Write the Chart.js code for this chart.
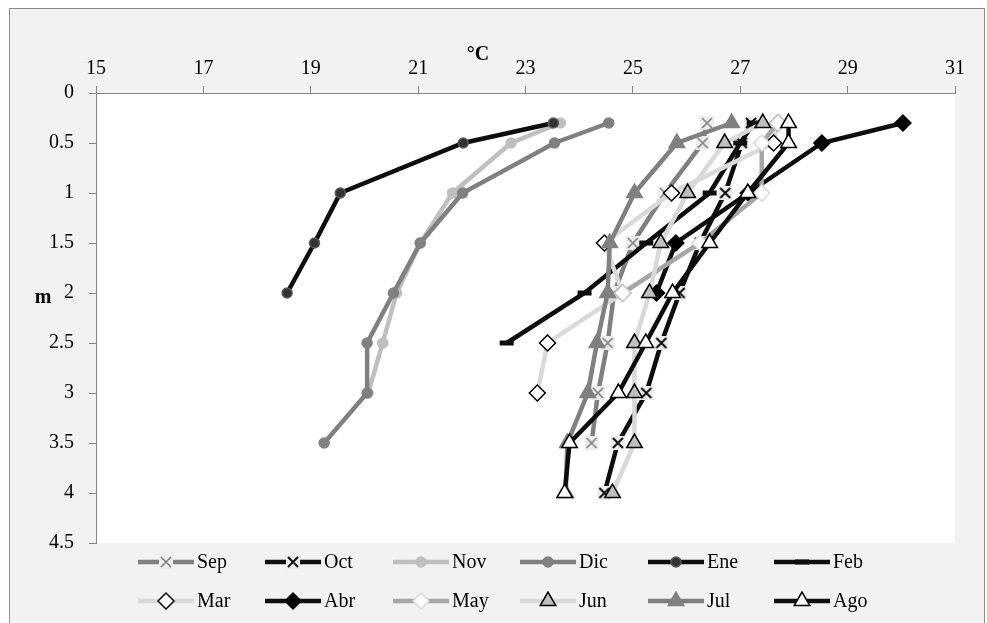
<!DOCTYPE html>
<html>
<head>
<meta charset="utf-8">
<script src="https://cdn.jsdelivr.net/npm/chart.js@4/dist/chart.umd.min.js"></script>
<style>
  body { margin: 0; background: #fff; }
  canvas { display: block; }
</style>
</head>
<body>
<canvas id="tempChart" width="987" height="623"></canvas>
<script>
// depth (m) of each reading, temperature (°C) per month
var depths = [0.3, 0.5, 1, 1.5, 2, 2.5, 3, 3.5, 4];
var months = ['Sep', 'Oct', 'Nov', 'Dic', 'Ene', 'Feb', 'Mar', 'Abr', 'May', 'Jun', 'Jul', 'Ago'];

var sep = [26.38, 26.3, 25.6, 25.0, 24.65, 24.53, 24.35, 24.23, null];
var oct = [27.2, 27.03, 26.72, 26.25, 25.87, 25.53, 25.25, 24.72, 24.47];
var nov = [23.65, 22.73, 21.64, 21.04, 20.6, 20.34, 20.07, null, null];
var dic = [24.55, 23.54, 21.83, 21.04, 20.54, 20.05, 20.05, 19.25, null];
var ene = [23.52, 21.84, 19.55, 19.07, 18.56, null, null, null, null];
var feb = [27.25, 27.0, 26.43, 25.25, 24.1, 22.65, null, null, null];
var mar = [27.7, 27.62, 25.72, 24.47, 24.81, 23.41, 23.22, null, null];
var abr = [30.03, 28.52, 27.15, 25.8, 25.44, null, null, null, null];
var may = [27.7, 27.4, 27.4, 26.25, 24.81, null, null, null, null];
var jun = [27.42, 26.71, 26.02, 25.52, 25.31, 25.03, 25.03, 25.03, 24.62];
var jul = [26.84, 25.82, 25.03, 24.57, 24.53, 24.33, 24.16, 23.78, 23.75];
var ago = [27.9, 27.9, 27.14, 26.43, 25.74, 25.24, 24.73, 23.82, 23.73];

var xTicks = [15, 17, 19, 21, 23, 25, 27, 29, 31];

var serif = '"Liberation Serif", "Times New Roman", serif';

// Excel-like "x" marker with a faint box behind it
function xMarker(color, lw) {
    var c = document.createElement('canvas');
    c.width = 16; c.height = 16;
    var g = c.getContext('2d');
    g.fillStyle = '#ececec';
    g.fillRect(1, 1, 14, 14);
    g.strokeStyle = color;
    g.lineWidth = lw;
    g.beginPath();
    g.moveTo(3, 3); g.lineTo(13, 13);
    g.moveTo(13, 3); g.lineTo(3, 13);
    g.stroke();
    return c;
}

var styles = [
    { line: '#808080', style: xMarker('#808080', 1.6), fill: '#808080', border: '#808080', r: 7 },
    { line: '#0d0d0d', style: xMarker('#0d0d0d', 2), fill: '#0d0d0d', border: '#0d0d0d', r: 7 },
    { line: '#bfbfbf', style: 'circle', fill: '#bfbfbf', border: '#bfbfbf', r: 5 },
    { line: '#808080', style: 'circle', fill: '#808080', border: '#808080', r: 5 },
    { line: '#0d0d0d', style: 'circle', fill: '#333333', border: '#595959', r: 5 },
    { line: '#0d0d0d', style: 'line', fill: '#0d0d0d', border: '#0d0d0d', r: 7, bw: 5 },
    { line: '#d9d9d9', style: 'rectRot', fill: '#ffffff', border: '#000000', r: 8 },
    { line: '#0d0d0d', style: 'rectRot', fill: '#000000', border: '#000000', r: 8 },
    { line: '#a6a6a6', style: 'rectRot', fill: '#ffffff', border: '#d9d9d9', r: 8 },
    { line: '#d9d9d9', style: 'triangle', fill: '#bfbfbf', border: '#000000', r: 9 },
    { line: '#808080', style: 'triangle', fill: '#808080', border: '#808080', r: 9 },
    { line: '#0d0d0d', style: 'triangle', fill: '#ffffff', border: '#000000', r: 9 }
];

var series = [sep, oct, nov, dic, ene, feb, mar, abr, may, jun, jul, ago];

function toPoints(arr) {
    var pts = [];
    depths.forEach(function (d, i) {
        if (arr[i] != null) pts.push({ x: arr[i], y: d });
    });
    return pts;
}

var datasets = series.map(function (arr, i) {
    var s = styles[i];
    return {
        label: months[i],
        data: toPoints(arr),
        showLine: true,
        borderColor: s.line,
        borderWidth: 4.5,
        pointStyle: s.style,
        pointRadius: s.r,
        pointHoverRadius: s.r,
        pointBackgroundColor: s.fill,
        pointBorderColor: s.border,
        pointBorderWidth: s.bw || 1.5,
        order: series.length - i   // later months on top, as in the original
    };
});

var frame = {
    id: 'frame',
    beforeDraw: function (chart) {
        var ctx = chart.ctx, a = chart.chartArea;
        ctx.save();
        ctx.fillStyle = '#ffffff';
        ctx.fillRect(0, 0, chart.width, chart.height);
        ctx.fillStyle = '#f2f2f2';
        ctx.fillRect(9, 8, 976, 700);
        ctx.strokeStyle = '#8c8c8c';
        ctx.lineWidth = 1;
        ctx.strokeRect(9.5, 8.5, 975, 700);
        ctx.fillStyle = '#ffffff';
        ctx.fillRect(a.left, a.top, a.right - a.left, a.bottom - a.top);
        ctx.restore();
    },
    afterDraw: function (chart) {
        var ctx = chart.ctx;
        ctx.save();
        // axis titles
        ctx.fillStyle = '#000';
        ctx.font = 'bold 20px ' + serif;
        ctx.textAlign = 'center';
        ctx.textBaseline = 'middle';
        ctx.fillText('°C', 478, 55);
        ctx.fillText('m', 43, 298);

        // legend, two rows of six
        var cols = [138, 265, 393, 520, 648, 774];
        var rows = [562, 601];
        ctx.font = '20px ' + serif;
        ctx.textAlign = 'left';
        datasets.forEach(function (ds, i) {
            var x = cols[i % 6], y = rows[Math.floor(i / 6)];
            ctx.strokeStyle = ds.borderColor;
            ctx.lineWidth = 4.5;
            ctx.beginPath();
            ctx.moveTo(x, y);
            ctx.lineTo(x + 56, y);
            ctx.stroke();
            ctx.fillStyle = ds.pointBackgroundColor;
            ctx.strokeStyle = ds.pointBorderColor;
            ctx.lineWidth = ds.pointBorderWidth;
            Chart.helpers.drawPoint(ctx, {
                pointStyle: ds.pointStyle,
                radius: ds.pointRadius,
                borderWidth: ds.pointBorderWidth,
                rotation: 0
            }, x + 28, y);
            ctx.fillStyle = '#000';
            ctx.fillText(ds.label, x + 59, y + 1);
        });
        ctx.restore();
    }
};

var ctxTemp = document.getElementById('tempChart').getContext('2d');
var tempChart = new Chart(ctxTemp, {
    type: 'scatter',
    data: { datasets: datasets },
    options: {
        responsive: false,
        animation: false,
        devicePixelRatio: 1,
        layout: { padding: { left: 0, top: 0, right: 32, bottom: 80 } },
        plugins: {
            legend: { display: false },
            tooltip: { enabled: false }
        },
        scales: {
            x: {
                type: 'linear',
                position: 'top',
                min: 15,
                max: 31,
                afterBuildTicks: function (scale) {
                    scale.ticks = xTicks.map(function (v) { return { value: v }; });
                },
                ticks: { font: { family: serif, size: 20 }, color: '#000', padding: 5 },
                grid: { drawOnChartArea: false, tickLength: 7, color: '#868686' },
                border: { color: '#868686' },
                afterFit: function (scale) { scale.height = 93; }
            },
            y: {
                type: 'linear',
                reverse: true,
                min: 0,
                max: 4.5,
                ticks: {
                    stepSize: 0.5,
                    font: { family: serif, size: 20 },
                    color: '#000',
                    padding: 15,
                    callback: function (v) { return String(Math.round(v * 10) / 10); }
                },
                grid: { drawOnChartArea: false, tickLength: 7, color: '#868686' },
                border: { color: '#868686' },
                afterFit: function (scale) { scale.width = 96; }
            }
        }
    },
    plugins: [frame]
});
</script>
</body>
</html>
